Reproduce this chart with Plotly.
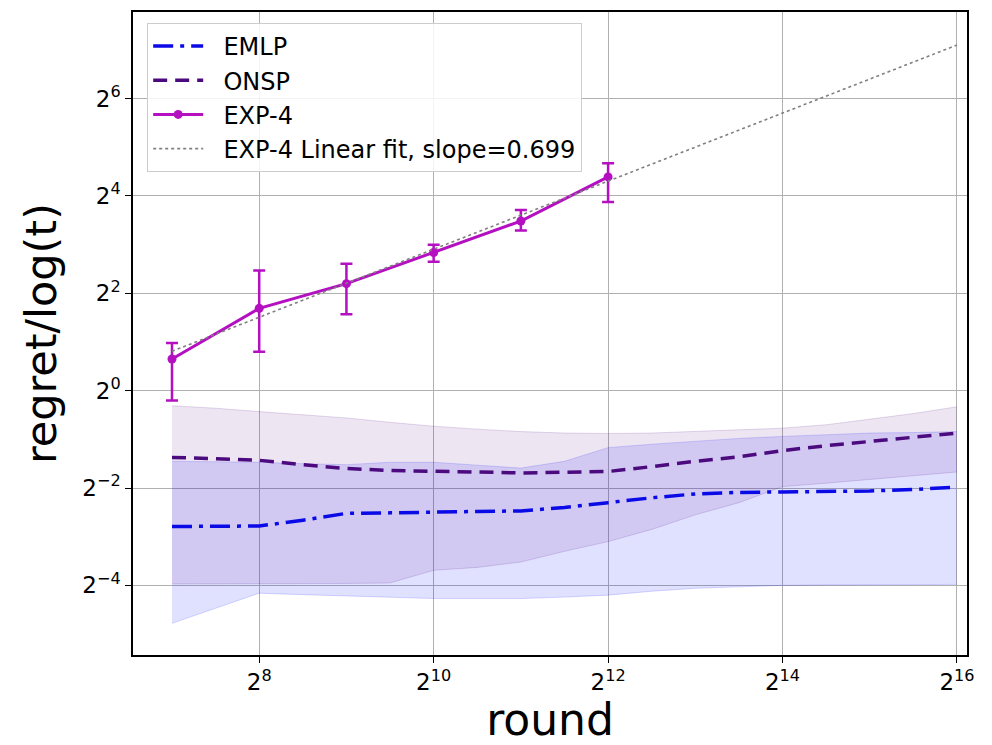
import numpy as np
import plotly.graph_objects as go

# ---- data (exponents are log2 of the plotted values) ----
band_exp = [7, 7.5, 8, 8.5, 9, 9.5, 10, 10.5, 11, 11.5, 12, 12.5, 13, 13.5, 14, 14.5, 15, 15.5, 16]

emlp_mean_log2 = [-2.79, -2.79, -2.78, -2.66, -2.52, -2.51, -2.49, -2.48, -2.47, -2.40,
                  -2.30, -2.20, -2.12, -2.09, -2.08, -2.07, -2.06, -2.03, -1.98]
emlp_upper_log2 = [-1.45, -1.46, -1.47, -1.50, -1.52, -1.47, -1.47, -1.53, -1.59, -1.45,
                   -1.17, -1.10, -1.04, -0.98, -0.94, -0.90, -0.87, -0.86, -0.84]
emlp_lower_log2 = [-4.78, -4.47, -4.16, -4.19, -4.22, -4.25, -4.27, -4.27, -4.27, -4.24,
                   -4.20, -4.12, -4.06, -4.03, -4.00, -3.99, -3.99, -3.98, -3.98]

onsp_mean_log2 = [-1.37, -1.40, -1.43, -1.52, -1.60, -1.64, -1.65, -1.67, -1.69, -1.68,
                  -1.66, -1.56, -1.45, -1.36, -1.23, -1.13, -1.04, -0.95, -0.87]
onsp_upper_log2 = [-0.31, -0.36, -0.43, -0.50, -0.56, -0.65, -0.73, -0.79, -0.84, -0.87,
                   -0.88, -0.87, -0.84, -0.80, -0.77, -0.70, -0.58, -0.47, -0.33]
onsp_lower_log2 = [-3.97, -3.97, -3.96, -3.96, -3.96, -3.95, -3.69, -3.63, -3.52, -3.30,
                   -3.10, -2.85, -2.55, -2.30, -1.97, -1.90, -1.82, -1.74, -1.67]

exp4_rounds = [128, 256, 512, 1024, 2048, 4096]
exp4_mean = [1.57, 3.23, 4.59, 7.16, 11.2, 21.0]
exp4_upper = [1.97, 5.54, 6.10, 8.00, 13.1, 25.5]
exp4_lower = [0.87, 1.74, 2.97, 6.28, 9.78, 14.7]

fit_slope = 0.699
fit_intercept_log2 = -4.083
fit_rounds = [128, 65536]

series_names = ["EMLP", "ONSP", "EXP-4", "EXP-4 Linear fit, slope=0.699"]

x_tick_vals = [256, 1024, 4096, 16384, 65536]
x_tick_text = ["2<sup>8</sup>", "2<sup>10</sup>", "2<sup>12</sup>", "2<sup>14</sup>", "2<sup>16</sup>"]
y_tick_vals = [2 ** -4, 2 ** -2, 1, 4, 16, 64]
y_tick_text = ["2<sup>−4</sup>", "2<sup>−2</sup>", "2<sup>0</sup>", "2<sup>2</sup>", "2<sup>4</sup>", "2<sup>6</sup>"]

# ---- conversions ----
band_rounds = np.power(2.0, band_exp)
p2 = lambda a: np.power(2.0, np.array(a))
fit_y = [2 ** fit_intercept_log2 * r ** fit_slope for r in fit_rounds]
err_plus = [u - m for u, m in zip(exp4_upper, exp4_mean)]
err_minus = [m - l for m, l in zip(exp4_mean, exp4_lower)]
leg = lambda s: "\u00a0\u00a0" + s  # small gap between legend symbol and text

EMLP_C = "#0a0ae6"
ONSP_C = "#4b0a7d"
EXP_C = "#b40fc0"

fig = go.Figure()

# bands
fig.add_trace(go.Scatter(x=band_rounds, y=p2(emlp_lower_log2), mode="lines",
                         line=dict(color="rgba(0,0,255,0.15)", width=1), showlegend=False, hoverinfo="skip"))
fig.add_trace(go.Scatter(x=band_rounds, y=p2(emlp_upper_log2), mode="lines", fill="tonexty",
                         fillcolor="rgba(0,0,255,0.12)",
                         line=dict(color="rgba(0,0,255,0.15)", width=1), showlegend=False, hoverinfo="skip"))
fig.add_trace(go.Scatter(x=band_rounds, y=p2(onsp_lower_log2), mode="lines",
                         line=dict(color="rgba(75,0,130,0.15)", width=1), showlegend=False, hoverinfo="skip"))
fig.add_trace(go.Scatter(x=band_rounds, y=p2(onsp_upper_log2), mode="lines", fill="tonexty",
                         fillcolor="rgba(75,0,130,0.10)",
                         line=dict(color="rgba(75,0,130,0.15)", width=1), showlegend=False, hoverinfo="skip"))

# lines
fig.add_trace(go.Scatter(x=band_rounds, y=p2(emlp_mean_log2), mode="lines", name=leg(series_names[0]),
                         legendgroup="a",
                         line=dict(color=EMLP_C, width=3.5, dash="20px,7px,4px,7px")))
fig.add_trace(go.Scatter(x=band_rounds, y=p2(onsp_mean_log2), mode="lines", name=leg(series_names[1]),
                         legendgroup="b",
                         line=dict(color=ONSP_C, width=3.5, dash="14px,8px")))
fig.add_trace(go.Scatter(x=exp4_rounds, y=exp4_mean, mode="lines+markers", name=leg(series_names[2]),
                         legendgroup="c",
                         line=dict(color=EXP_C, width=3),
                         marker=dict(color=EXP_C, size=9),
                         error_y=dict(type="data", symmetric=False, array=err_plus, arrayminus=err_minus,
                                      color=EXP_C, thickness=2.5, width=6)))
fig.add_trace(go.Scatter(x=fit_rounds, y=fit_y, mode="lines", name=leg(series_names[3]),
                         legendgroup="d",
                         line=dict(color="#808080", width=1.6, dash="dot")))

xr = [np.log10(2 ** 6.553), np.log10(2 ** 16.115)]
yr = [np.log10(2 ** -5.43), np.log10(2 ** 7.78)]

fig.update_layout(
    width=984, height=737,
    margin=dict(l=125, r=25, t=2, b=90),
    paper_bgcolor="white", plot_bgcolor="white",
    font=dict(family="DejaVu Sans", color="black"),
    legend=dict(x=0.017, y=0.983, xanchor="left", yanchor="top",
                bgcolor="rgba(255,255,255,0.85)", bordercolor="#cccccc", borderwidth=1,
                font=dict(size=24, family="DejaVu Sans"), traceorder="grouped",
                tracegroupgap=0, itemwidth=50),
    xaxis=dict(type="log", range=xr, tickvals=x_tick_vals, ticktext=x_tick_text,
               tickfont=dict(size=23), showgrid=True, gridcolor="#b0b0b0", gridwidth=1.2,
               showline=True, linecolor="black", linewidth=1.5, mirror=True,
               ticks="outside", ticklen=6, tickcolor="black", zeroline=False,
               title=dict(text="round", font=dict(size=44), standoff=12)),
    yaxis=dict(type="log", range=yr, tickvals=y_tick_vals, ticktext=y_tick_text,
               tickfont=dict(size=23), showgrid=True, gridcolor="#b0b0b0", gridwidth=1.2,
               showline=True, linecolor="black", linewidth=1.5, mirror=True,
               ticks="outside", ticklen=6, tickcolor="black", zeroline=False,
               title=dict(text="regret/log(t)", font=dict(size=43), standoff=12)),
)

fig.write_html("out.html")
